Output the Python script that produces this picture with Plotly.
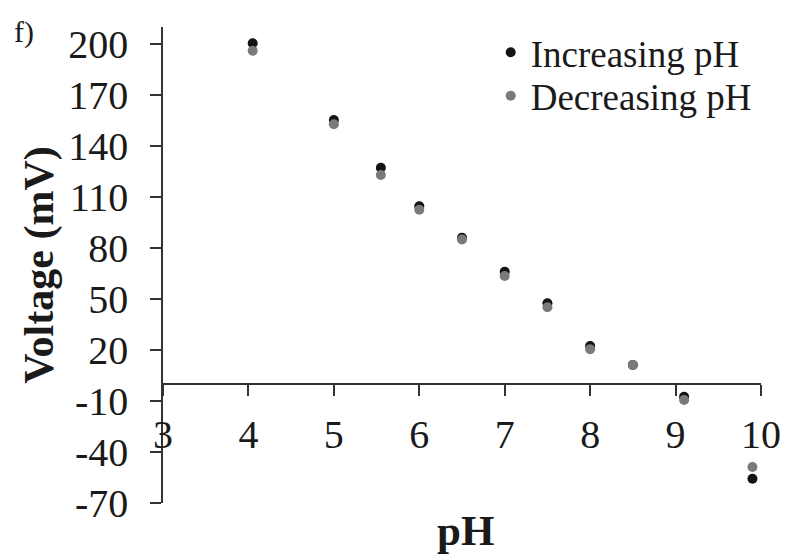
import plotly.graph_objects as go

ph_inc = [4.05, 5.0, 5.55, 6.0, 6.5, 7.0, 7.5, 8.0, 8.5, 9.1, 9.9]
v_inc = [200.4, 155.3, 127.2, 104.5, 86.0, 66.0, 47.5, 22.3, 11.2, -7.5, -55.7]
ph_dec = [4.05, 5.0, 5.55, 6.0, 6.5, 7.0, 7.5, 8.0, 8.5, 9.1, 9.9]
v_dec = [196.0, 152.8, 122.9, 102.5, 85.0, 63.5, 45.1, 20.4, 11.2, -9.4, -48.8]

x_ticks = [3, 4, 5, 6, 7, 8, 9, 10]
y_ticks = [-70, -40, -10, 20, 50, 80, 110, 140, 170, 200]

FONT = "Liberation Serif, Times New Roman, serif"
TXT = "#1a1a1a"

fig = go.Figure()
fig.add_trace(go.Scatter(x=ph_inc, y=v_inc, mode="markers", name="Increasing pH",
                         marker=dict(color="#141414", size=10), legend="legend"))
fig.add_trace(go.Scatter(x=ph_dec, y=v_dec, mode="markers", name="Decreasing pH",
                         marker=dict(color="#7a7a7a", size=10), legend="legend2"))

yr = [-70, 210]
leg_common = dict(xanchor="left", yanchor="top",
                  font=dict(size=37, family=FONT, color=TXT),
                  bgcolor="rgba(0,0,0,0)", itemsizing="trace")
fig.update_layout(
    width=793, height=559,
    margin=dict(l=163, r=23, t=27, b=56),
    paper_bgcolor="white", plot_bgcolor="white",
    font=dict(family=FONT, color=TXT),
    showlegend=True,
    legend=dict(x=0.548, y=1.011, **leg_common),
    legend2=dict(x=0.548, y=0.920, **leg_common),
    xaxis=dict(range=[3, 10], tickvals=x_ticks, ticktext=[str(v) for v in x_ticks],
               anchor="free", position=(0 - yr[0]) / (yr[1] - yr[0]),
               showline=True, linecolor="#333", linewidth=1.5,
               ticks="outside", ticklen=11, tickwidth=1.5, tickcolor="#333",
               ticklabelstandoff=4,
               tickfont=dict(size=40, family=FONT, color=TXT),
               showgrid=False, zeroline=False),
    yaxis=dict(range=yr, tickvals=y_ticks, ticktext=[str(v) for v in y_ticks],
               showline=True, linecolor="#333", linewidth=1.5,
               ticks="outside", ticklen=11, tickwidth=1.5, tickcolor="#333",
               ticklabelstandoff=14,
               tickfont=dict(size=40, family=FONT, color=TXT),
               showgrid=False, zeroline=False),
)

fig.add_annotation(text="<b>Voltage (mV)</b>", xref="paper", yref="paper",
                   x=(37 - 163) / 607, y=(503 - 265) / 476, textangle=-90,
                   showarrow=False, font=dict(size=42, family=FONT, color=TXT),
                   xanchor="center", yanchor="middle")
fig.add_annotation(text="<b>pH</b>", xref="paper", yref="paper",
                   x=(470 - 163) / 607, y=-(530 - 503) / 476,
                   showarrow=False, font=dict(size=43, family=FONT, color=TXT),
                   xanchor="center", yanchor="middle")
fig.add_annotation(text="f)", xref="paper", yref="paper",
                   x=(22 - 163) / 607, y=(503 - 32) / 476,
                   showarrow=False, font=dict(size=30, family=FONT, color=TXT),
                   xanchor="center", yanchor="middle")

fig.write_html("out.html", config={"displayModeBar": False},
               post_script="document.body.style.margin='0';")
